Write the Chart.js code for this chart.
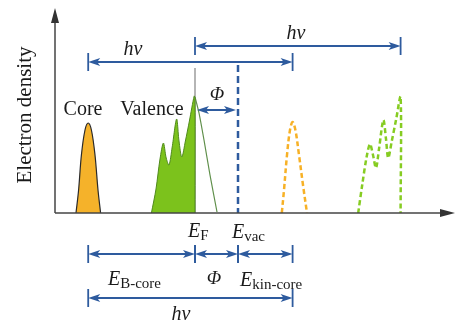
<!DOCTYPE html>
<html>
<head>
<meta charset="utf-8">
<script src="https://cdn.jsdelivr.net/npm/chart.js@4.4.0/dist/chart.umd.min.js"></script>
<style>
  html, body { margin: 0; padding: 0; background: #fff; }
  #wrap { width: 456px; height: 322px; position: relative; }
</style>
</head>
<body>
<div id="wrap"><canvas id="c"></canvas></div>
<script>
// energy in arbitrary units (0..100), electron density in arbitrary units (0..103)
const coreEnergy = [5.25, 5.9, 6.6, 7.5, 8.3, 9.1, 10, 10.75, 11.4];
const coreDensity = [0, 11.5, 29, 41.5, 45, 41.5, 29, 11.5, 0];

const valenceEnergy = [24.1, 25.25, 26.25, 27.1, 27.8, 28.5, 29.3, 30.4, 31, 31.7, 32.6, 33.6, 34.8, 35, 35];
const valenceDensity = [0, 12, 27, 35, 27.5, 24, 33, 47, 36, 28, 36, 46, 58.5, 57, 0];

const tailEnergy = [35, 36, 37.25, 38.75, 40.5];
const tailDensity = [58, 50, 36.5, 19, 0.5];

const kinCoreEnergy = [56.7, 57.25, 58, 58.75, 59.4, 60.1, 61, 62, 63];
const kinCoreDensity = [0, 11.5, 29, 41.5, 45.5, 41.5, 29, 14, 0];

const kinValenceEnergy = [75.8, 76.8, 77.9, 78.75, 79.5, 80.25, 81, 82.1, 82.75, 83.3, 84.2, 85.3, 86.4, 86.4];
const kinValenceDensity = [0, 14, 28, 34.5, 29, 22.5, 32, 46.5, 37, 27.5, 36, 47, 58, 0];

// energy levels: core peak, Fermi level, vacuum level, kinetic core peak, shifted valence edge
const levelNames = ['core', 'EF', 'Evac', 'kinCore', 'kinValence'];
const levelEnergy = [8.3, 35, 45.75, 59.4, 86.4];
const level = n => levelEnergy[levelNames.indexOf(n)];

const pts = (xs, ys) => xs.map((v, i) => ({ x: v, y: ys[i] }));

const BLUE = '#2e5b9e';
const SERIF = '"Liberation Serif", "DejaVu Serif", serif';

function seg(ctx, x1, y1, x2, y2) {
  ctx.beginPath();
  ctx.moveTo(x1, y1);
  ctx.lineTo(x2, y2);
  ctx.stroke();
}

function head(ctx, tx, ty, dir) {
  // dir: -1 points left, 1 points right
  ctx.beginPath();
  ctx.moveTo(tx, ty);
  ctx.lineTo(tx - dir * 12, ty - 4);
  ctx.lineTo(tx - dir * 9, ty);
  ctx.lineTo(tx - dir * 12, ty + 4);
  ctx.closePath();
  ctx.fill();
}

function dimArrow(ctx, x1, x2, yy, ticks) {
  ctx.strokeStyle = BLUE;
  ctx.fillStyle = BLUE;
  ctx.lineWidth = 2;
  seg(ctx, x1 + 4, yy, x2 - 4, yy);
  head(ctx, x1, yy, -1);
  head(ctx, x2, yy, 1);
  if (ticks) {
    ctx.lineWidth = 1.8;
    seg(ctx, x1, yy - 9, x1, yy + 9);
    seg(ctx, x2, yy - 9, x2, yy + 9);
  }
}

function text(ctx, s, x, y, font, align) {
  ctx.font = font;
  ctx.textAlign = align || 'left';
  ctx.textBaseline = 'alphabetic';
  ctx.fillStyle = '#1a1a1a';
  ctx.fillText(s, x, y);
}

function energyLabel(ctx, sub, x, y) {
  text(ctx, 'E', x, y, 'italic 20px ' + SERIF);
  const w = ctx.measureText('E').width;
  text(ctx, sub, x + w, y + 3, '15px ' + SERIF);
}

const diagram = {
  id: 'diagram',
  beforeDatasetsDraw(chart) {
    const { ctx, chartArea: a, scales: { x, y } } = chart;
    ctx.save();
    // Fermi level
    ctx.strokeStyle = '#9d9d9d';
    ctx.lineWidth = 1.5;
    const ef = x.getPixelForValue(level('EF'));
    seg(ctx, ef, y.getPixelForValue(72.5), ef, a.bottom);
    ctx.restore();
  },
  afterDatasetsDraw(chart) {
    const { ctx, chartArea: a, scales: { x, y } } = chart;
    const px = n => x.getPixelForValue(level(n));
    ctx.save();

    // vacuum level
    ctx.strokeStyle = BLUE;
    ctx.lineWidth = 2.5;
    ctx.setLineDash([7, 4]);
    seg(ctx, px('Evac'), y.getPixelForValue(74), px('Evac'), a.bottom);
    ctx.setLineDash([]);

    // axes
    ctx.strokeStyle = '#444';
    ctx.fillStyle = '#333';
    ctx.lineWidth = 1.5;
    seg(ctx, a.left, a.bottom, a.right - 10, a.bottom);
    seg(ctx, a.left, a.bottom, a.left, a.top + 10);
    ctx.beginPath();
    ctx.moveTo(a.right, a.bottom);
    ctx.lineTo(a.right - 15, a.bottom - 4);
    ctx.lineTo(a.right - 15, a.bottom + 4);
    ctx.closePath();
    ctx.fill();
    ctx.beginPath();
    ctx.moveTo(a.left, a.top + 1);
    ctx.lineTo(a.left - 4, a.top + 16);
    ctx.lineTo(a.left + 4, a.top + 16);
    ctx.closePath();
    ctx.fill();

    // y axis title
    ctx.save();
    ctx.translate(31, 115);
    ctx.rotate(-Math.PI / 2);
    text(ctx, 'Electron density', 0, 0, '21px ' + SERIF, 'center');
    ctx.restore();

    // peak names
    text(ctx, 'Core', 83, 115, '20px ' + SERIF, 'center');
    text(ctx, 'Valence', 152, 115, '20px ' + SERIF, 'center');

    // photon energy arrows on top
    dimArrow(ctx, px('core'), px('kinCore'), 62, true);
    text(ctx, 'hν', 133, 55, 'italic 20px ' + SERIF, 'center');
    dimArrow(ctx, px('EF'), px('kinValence'), 46, true);
    text(ctx, 'hν', 296, 39, 'italic 20px ' + SERIF, 'center');

    // work function arrow
    dimArrow(ctx, px('EF') + 2, px('Evac') - 2, 110, false);
    text(ctx, 'Φ', 217, 100, 'italic 19px ' + SERIF, 'center');

    // level labels under the axis
    energyLabel(ctx, 'F', 188, 237);
    energyLabel(ctx, 'vac', 232, 238);

    // energy balance rows
    const r1 = a.bottom + 41;
    dimArrow(ctx, px('core'), px('EF'), r1, true);
    dimArrow(ctx, px('EF'), px('Evac'), r1, true);
    dimArrow(ctx, px('Evac'), px('kinCore'), r1, true);
    energyLabel(ctx, 'B-core', 108, 285);
    text(ctx, 'Φ', 214, 284, 'italic 19px ' + SERIF, 'center');
    energyLabel(ctx, 'kin-core', 240, 286);

    const r2 = a.bottom + 85;
    dimArrow(ctx, px('core'), px('kinCore'), r2, true);
    text(ctx, 'hν', 181, 320, 'italic 20px ' + SERIF, 'center');

    ctx.restore();
  }
};

new Chart(document.getElementById('c'), {
  type: 'line',
  data: {
    datasets: [
      {
        data: pts(coreEnergy, coreDensity),
        borderColor: '#2a2a2a',
        borderWidth: 1.2,
        backgroundColor: '#f5b22a',
        fill: 'origin',
        tension: 0.35
      },
      {
        data: pts(valenceEnergy, valenceDensity),
        borderColor: '#4f8a1c',
        borderWidth: 1,
        backgroundColor: '#7cc21c',
        fill: 'origin',
        tension: 0.3
      },
      {
        data: pts(tailEnergy, tailDensity),
        borderColor: '#5f8f4a',
        borderWidth: 1.2,
        fill: false,
        tension: 0.2
      },
      {
        data: pts(kinCoreEnergy, kinCoreDensity),
        borderColor: '#f7b126',
        borderWidth: 2.5,
        borderDash: [5, 3],
        fill: false,
        tension: 0.35
      },
      {
        data: pts(kinValenceEnergy, kinValenceDensity),
        borderColor: '#86cc22',
        borderWidth: 2.5,
        borderDash: [5, 3],
        fill: false,
        tension: 0.3
      }
    ]
  },
  options: {
    responsive: true,
    maintainAspectRatio: false,
    animation: false,
    layout: { padding: { left: 55, right: 1, top: 7, bottom: 109 } },
    elements: { point: { radius: 0 } },
    plugins: { legend: { display: false }, tooltip: { enabled: false } },
    scales: {
      x: { type: 'linear', display: false, min: 0, max: 100 },
      y: { type: 'linear', display: false, min: 0, max: 103 }
    }
  },
  plugins: [diagram]
});
</script>
</body>
</html>
